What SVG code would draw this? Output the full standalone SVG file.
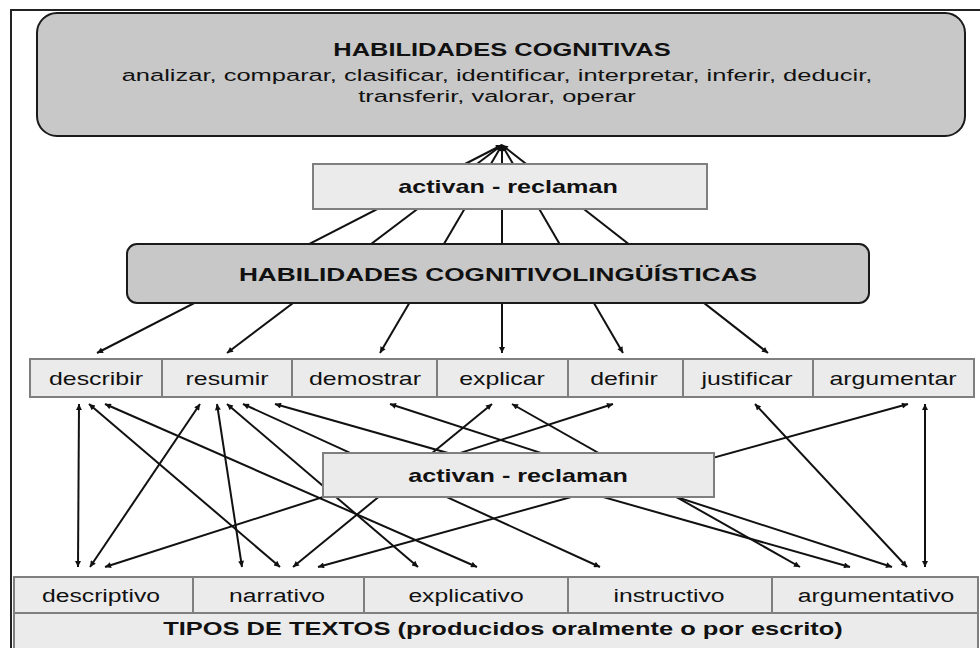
<svg xmlns="http://www.w3.org/2000/svg" width="980" height="648" viewBox="0 0 980 648">
<style>
.t{font-family:"Liberation Sans",Arial,sans-serif;fill:#111;text-anchor:middle}
.b{font-weight:bold}
.big{fill:#c8c8c8;stroke:#1a1a1a;stroke-width:2}
.cell{fill:#ebebeb;stroke:#7f7f7f;stroke-width:2}
.ln{stroke:#111;stroke-width:2;fill:none}
</style>
<defs>
<marker id="ah" viewBox="0 0 10 10" refX="10" refY="5" markerWidth="8" markerHeight="6" markerUnits="userSpaceOnUse" orient="auto-start-reverse">
<path d="M0,0 L10,5 L0,10 z" fill="#111"/>
</marker>
</defs>
<rect width="980" height="648" fill="#fff"/>
<path d="M11,648 V10 H980" fill="none" stroke="#222" stroke-width="2"/>

<g id="connectors">
<g class="ln" marker-start="url(#ah)" marker-end="url(#ah)">
<line x1="502" y1="145" x2="97" y2="353"/>
<line x1="502" y1="145" x2="227" y2="353"/>
<line x1="502" y1="145" x2="380" y2="353"/>
<line x1="502" y1="145" x2="502" y2="353"/>
<line x1="502" y1="145" x2="623" y2="353"/>
<line x1="502" y1="145" x2="768" y2="353"/>

<line x1="79" y1="404" x2="78" y2="567"/>
<line x1="89" y1="404" x2="280" y2="567"/>
<line x1="105" y1="404" x2="477" y2="567"/>
<line x1="200" y1="404" x2="90" y2="567"/>
<line x1="217" y1="404" x2="242" y2="567"/>
<line x1="227" y1="404" x2="418" y2="567"/>
<line x1="243" y1="404" x2="600" y2="567"/>
<line x1="275" y1="404" x2="850" y2="567"/>
<line x1="390" y1="404" x2="892" y2="567"/>
<line x1="492" y1="404" x2="293" y2="567"/>
<line x1="512" y1="404" x2="800" y2="567"/>
<line x1="613" y1="404" x2="105" y2="567"/>
<line x1="755" y1="404" x2="907" y2="567"/>
<line x1="908" y1="404" x2="318" y2="567"/>
<line x1="925" y1="404" x2="925" y2="567"/>
</g>
</g>

<g id="habilidades-cognitivas">
<rect class="big" x="37" y="13" width="928" height="123" rx="20"/>
<text class="t b" font-size="19" transform="translate(502,56) scale(1.34,1)">HABILIDADES COGNITIVAS</text>
<text class="t" font-size="17" transform="translate(497,81) scale(1.5,1)">analizar,  comparar,  clasificar,  identificar,  interpretar,  inferir,  deducir,</text>
<text class="t" font-size="17" transform="translate(497,102) scale(1.5,1)">transferir, valorar, operar</text>
</g>

<g id="activan-reclaman-1">
<rect class="cell" x="313" y="164" width="394" height="45"/>
<text class="t b" font-size="18" transform="translate(508,193) scale(1.4,1)">activan - reclaman</text>
</g>

<g id="habilidades-cognitivolinguisticas">
<rect class="big" x="127" y="244" width="742" height="59" rx="10"/>
<text class="t b" font-size="19" transform="translate(498,281) scale(1.38,1)">HABILIDADES COGNITIVOLINGÜÍSTICAS</text>
</g>

<g id="describir"><rect class="cell" x="30" y="359" width="132" height="38"/><text class="t" font-size="19" transform="translate(96,385) scale(1.31,1)">describir</text></g>
<g id="resumir"><rect class="cell" x="162" y="359" width="130" height="38"/><text class="t" font-size="19" transform="translate(227,385) scale(1.31,1)">resumir</text></g>
<g id="demostrar"><rect class="cell" x="292" y="359" width="145" height="38"/><text class="t" font-size="19" transform="translate(365,385) scale(1.31,1)">demostrar</text></g>
<g id="explicar"><rect class="cell" x="437" y="359" width="131" height="38"/><text class="t" font-size="19" transform="translate(502,385) scale(1.31,1)">explicar</text></g>
<g id="definir"><rect class="cell" x="568" y="359" width="115" height="38"/><text class="t" font-size="19" transform="translate(624,385) scale(1.31,1)">definir</text></g>
<g id="justificar"><rect class="cell" x="683" y="359" width="130" height="38"/><text class="t" font-size="19" transform="translate(747,385) scale(1.31,1)">justificar</text></g>
<g id="argumentar"><rect class="cell" x="813" y="359" width="161" height="38"/><text class="t" font-size="19" transform="translate(893,385) scale(1.31,1)">argumentar</text></g>

<g id="activan-reclaman-2">
<rect class="cell" x="323" y="453" width="391" height="44"/>
<text class="t b" font-size="18" transform="translate(518,482) scale(1.4,1)">activan - reclaman</text>
</g>

<g id="descriptivo"><rect class="cell" x="14" y="577" width="179" height="36"/><text class="t" font-size="19" transform="translate(101,602) scale(1.3,1)">descriptivo</text></g>
<g id="narrativo"><rect class="cell" x="193" y="577" width="171" height="36"/><text class="t" font-size="19" transform="translate(277,602) scale(1.3,1)">narrativo</text></g>
<g id="explicativo"><rect class="cell" x="364" y="577" width="204" height="36"/><text class="t" font-size="19" transform="translate(466,602) scale(1.3,1)">explicativo</text></g>
<g id="instructivo"><rect class="cell" x="568" y="577" width="204" height="36"/><text class="t" font-size="19" transform="translate(669,602) scale(1.3,1)">instructivo</text></g>
<g id="argumentativo"><rect class="cell" x="772" y="577" width="206" height="36"/><text class="t" font-size="19" transform="translate(876,602) scale(1.3,1)">argumentativo</text></g>

<g id="tipos-de-textos">
<rect class="cell" x="14" y="613" width="964" height="40"/>
<text class="t b" font-size="19" transform="translate(503,635) scale(1.34,1)">TIPOS DE TEXTOS (producidos oralmente o por escrito)</text>
</g>
</svg>
